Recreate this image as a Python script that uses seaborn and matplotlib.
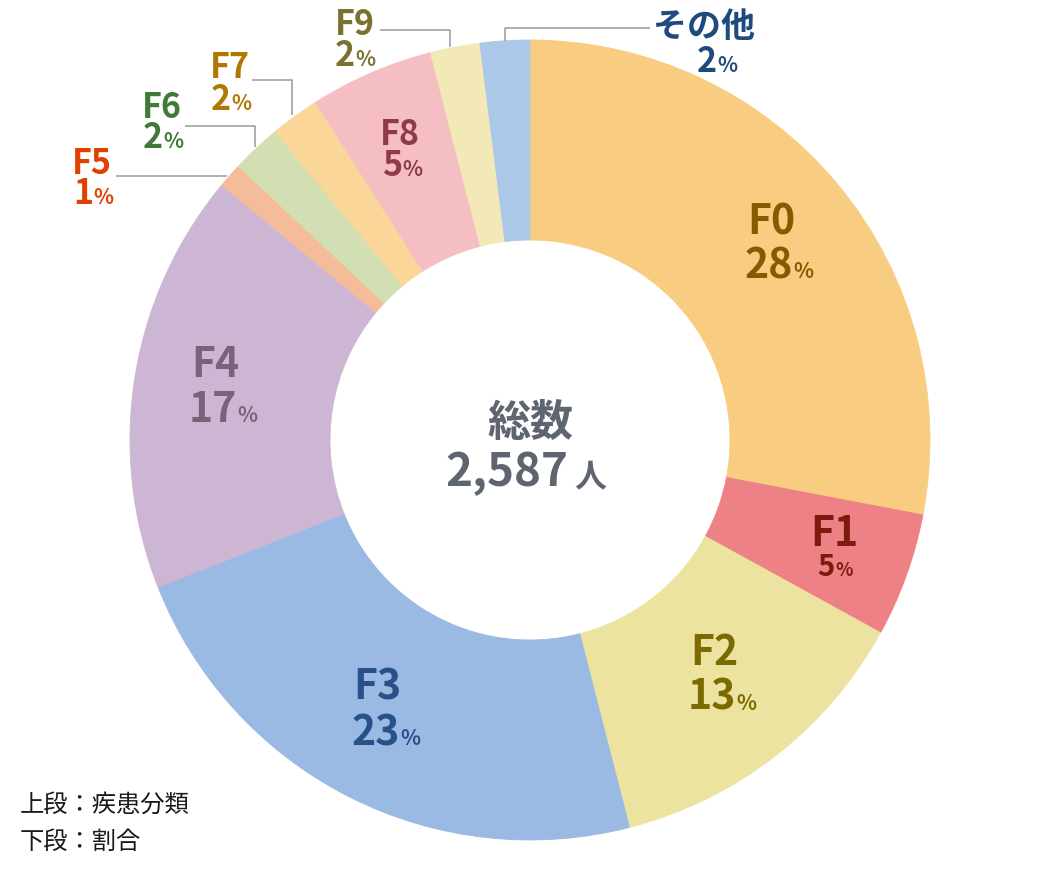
import matplotlib
matplotlib.use("Agg")
import matplotlib.pyplot as plt
import seaborn as sns

# ---------------- data ----------------
categories = ["F0", "F1", "F2", "F3", "F4", "F5", "F6", "F7", "F8", "F9", "その他"]
percents = [28, 5, 13, 23, 17, 1, 2, 2, 5, 2, 2]
total_title = "総数"
total_value = "2,587"
total_unit = "人"
note_lines = ["上段：疾患分類", "下段：割合"]

wedge_colors = ["#F8CD82", "#EE8186", "#EDE3A0", "#9ABAE3", "#CDB5D4", "#F5BC9A",
                "#D2DFB3", "#FAD698", "#F5BEC2", "#F2E9B6", "#ABC8E8"]
text_colors = ["#875A00", "#7C1A0C", "#7A6A00", "#285089", "#7A6378", "#E04000",
               "#3F7A36", "#B07800", "#8E3A48", "#7A7030", "#1F4A7E"]

sns.set_theme(style="white")
plt.rcParams['font.family'] = ['Noto Sans CJK JP', 'DejaVu Sans']

W, H = 1060, 880
fig = plt.figure(figsize=(10.6, 8.8), dpi=100)
ax = fig.add_axes([0, 0, 1, 1])
ax.pie(percents, colors=wedge_colors, startangle=90, counterclock=False,
       radius=400, center=(530, H - 440),
       wedgeprops=dict(width=200, linewidth=0.6))
for w, c in zip(ax.patches, wedge_colors):
    w.set_edgecolor(c)
ax.set_xlim(0, W)
ax.set_ylim(0, H)
ax.set_aspect('equal')
ax.axis('off')

# label layout: (name center x, name baseline y, number anchor x, number baseline y,
#                name size, number size, percent size)
layout = [
    (771, 234, 793, 278, 29.5, 29.5, 15),
    (834, 546, 835, 576, 29.5, 21, 13),
    (714, 665, 736, 710, 29.5, 29.5, 15),
    (377, 700, 400, 745, 29.5, 29.5, 15),
    (215, 377, 237, 422, 29.5, 29.5, 15),
    (92, 174, 93, 204, 24.5, 24.5, 15),
    (162, 118, 163, 148, 24.5, 24.5, 15),
    (230, 78, 231, 110, 24.5, 24.5, 15),
    (400, 145, 402, 176, 24.5, 24.5, 15),
    (355, 35, 355, 66, 24.5, 24.5, 15),
    (704, 37, 717, 72, 24.5, 24.5, 15),
]

for cat, pct, col, (nx, ny, ax_x, ay, ns, ds, ps) in zip(categories, percents, text_colors, layout):
    ax.text(nx, H - ny, cat, ha='center', va='baseline', fontsize=ns,
            fontweight='bold', color=col)
    ax.text(ax_x, H - ay, f"{pct}", ha='right', va='baseline', fontsize=ds,
            fontweight='bold', color=col)
    ax.text(ax_x, H - ay, "%", ha='left', va='baseline', fontsize=ps,
            fontweight='bold', color=col)

# leader lines (pixel coords)
leader = [
    [(116, 176), (227, 176)],
    [(185, 126), (255, 126), (255, 147)],
    [(252, 80), (292, 80), (292, 115)],
    [(380, 30), (450, 30), (450, 47)],
    [(650, 28), (505, 28), (505, 41)],
]
for pts in leader:
    xs = [p[0] for p in pts]
    ys = [H - p[1] for p in pts]
    ax.plot(xs, ys, color="#9A9A9A", lw=1.1, solid_capstyle='butt')

# center text
center_col = "#5F6570"
ax.text(530, H - 436, total_title, ha='center', va='baseline', fontsize=31,
        fontweight='bold', color=center_col)
ax.text(568, H - 486, total_value, ha='right', va='baseline', fontsize=33,
        fontweight='bold', color=center_col)
ax.text(574, H - 486, total_unit, ha='left', va='baseline', fontsize=23,
        fontweight='bold', color=center_col)

# note
for i, line in enumerate(note_lines):
    ax.text(20, H - (812 + 37 * i), line, ha='left', va='baseline', fontsize=17.5,
            color="#1A1A1A")

fig.savefig("out.png", dpi=100)
